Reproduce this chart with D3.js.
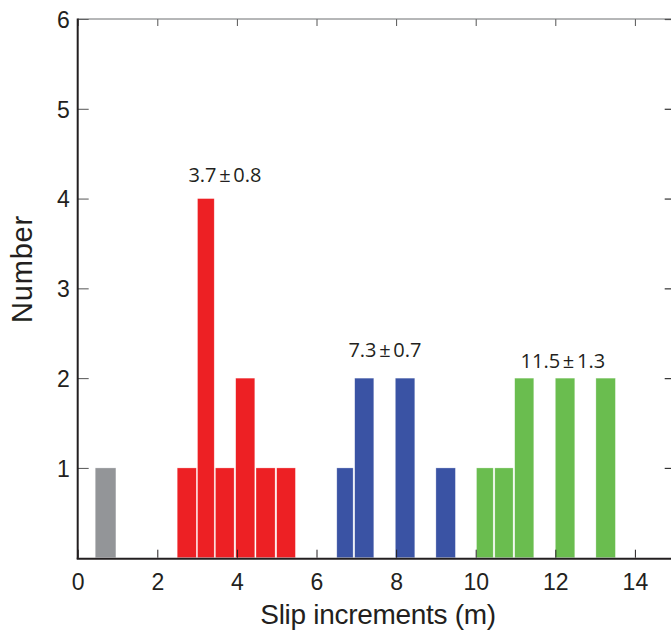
<!DOCTYPE html>
<html>
<head>
<meta charset="utf-8">
<script src="https://cdn.jsdelivr.net/npm/d3@7/dist/d3.min.js"></script>
<style>
  html, body { margin: 0; padding: 0; background: #fff; }
  svg { display: block; }
</style>
</head>
<body>
<svg id="chart" width="671" height="637"></svg>
<script>
// ---- data (histogram bins, in metres) ----
const binStart = [0.44, 2.50, 3.01, 3.46, 3.97, 4.48, 5.00, 6.51, 6.96, 7.98, 9.00, 10.02, 10.48, 10.98, 12.00, 13.02];
const binEnd   = [0.96, 2.98, 3.43, 3.93, 4.45, 4.96, 5.47, 6.92, 7.44, 8.47, 9.49, 10.44, 10.94, 11.46, 12.49, 13.51];
const counts   = [1, 1, 4, 1, 2, 1, 1, 1, 2, 2, 1, 1, 1, 2, 2, 2];
const binGroup = ["other", "A", "A", "A", "A", "A", "A", "B", "B", "B", "B", "C", "C", "C", "C", "C"];

const groupNames  = ["other", "A", "B", "C"];
const groupColors = ["#939598", "#ed2024", "#3a53a4", "#6abd4f"];

const annotations = ["3.7 ± 0.8", "7.3 ± 0.7", "11.5 ± 1.3"];
const annotX = [3.70, 7.72, 12.19];
const annotY = [4.19, 2.23, 2.11];

const xTicks = [0, 2, 4, 6, 8, 10, 12, 14];
const yTicks = [1, 2, 3, 4, 5, 6];
const xTitle = "Slip increments (m)";
const yTitle = "Number";

(function () {
// ---- layout ----
const svg = d3.select("#chart");
const mLeft = 77.7, mRight = 674.7, mTop = 19, mBottom = 557.7;
const x = d3.scaleLinear().domain([0, 15]).range([mLeft, mRight]);
const y = d3.scaleLinear().domain([0, 6]).range([mBottom, mTop]);
const color = d3.scaleOrdinal().domain(groupNames).range(groupColors);

const bins = binStart.map((s, i) => ({ x0: s, x1: binEnd[i], n: counts[i], g: binGroup[i] }));

// bars
svg.append("g").selectAll("rect").data(bins).join("rect")
  .attr("x", d => x(d.x0))
  .attr("width", d => x(d.x1) - x(d.x0))
  .attr("y", d => y(d.n))
  .attr("height", d => y(0) - y(d.n))
  .attr("fill", d => color(d.g))
  .attr("stroke", "#ffffff")
  .attr("stroke-opacity", 0.5)
  .attr("stroke-width", 0.6);

// axes
const tickFont = "'Liberation Sans', Arial, Helvetica, sans-serif";
const dark = "#231f20";

const xAxis = d3.axisBottom(x).tickValues(xTicks).tickSize(-8).tickPadding(16).tickFormat(d3.format("d"));
const gx = svg.append("g").attr("transform", `translate(0,${mBottom})`).call(xAxis);
gx.select(".domain").remove();
gx.selectAll(".tick line").attr("stroke", dark).attr("stroke-width", 1);
gx.selectAll(".tick text").attr("font-family", tickFont).attr("font-size", 23).attr("fill", dark).attr("dy", "0.71em");

const xTopAxis = d3.axisTop(x).tickValues(xTicks).tickSize(-7).tickFormat("");
const gxt = svg.append("g").attr("transform", `translate(0,${mTop})`).call(xTopAxis);
gxt.select(".domain").remove();
gxt.selectAll(".tick line").attr("stroke", "#555").attr("stroke-width", 1);

const yAxis = d3.axisLeft(y).tickValues(yTicks).tickSize(-11).tickPadding(8).tickFormat(d3.format("d"));
const gy = svg.append("g").attr("transform", `translate(${mLeft},0)`).call(yAxis);
gy.select(".domain").remove();
gy.selectAll(".tick line").attr("stroke", "#555").attr("stroke-width", 1);
gy.selectAll(".tick text").attr("font-family", tickFont).attr("font-size", 23).attr("fill", dark).attr("dy", "0.36em");

const yRightAxis = d3.axisRight(y).tickValues(yTicks).tickSize(-10).tickFormat("");
const gyr = svg.append("g").attr("transform", `translate(${mRight},0)`).call(yRightAxis);
gyr.select(".domain").remove();
gyr.selectAll(".tick line").attr("stroke", "#333").attr("stroke-width", 1.2);

// spines
svg.append("line").attr("x1", mLeft).attr("x2", mRight).attr("y1", mTop).attr("y2", mTop)
  .attr("stroke", "#6d6e71").attr("stroke-width", 1);
svg.append("line").attr("x1", mLeft).attr("x2", mLeft).attr("y1", mTop - 0.5).attr("y2", mBottom + 1)
  .attr("stroke", dark).attr("stroke-width", 2);
svg.append("line").attr("x1", mLeft - 1).attr("x2", mRight).attr("y1", mBottom + 1).attr("y2", mBottom + 1)
  .attr("stroke", dark).attr("stroke-width", 2);

// annotations
svg.append("g").selectAll("text").data(annotations).join("text")
  .attr("x", (d, i) => x(annotX[i]))
  .attr("y", (d, i) => y(annotY[i]))
  .attr("text-anchor", "middle")
  .attr("font-family", "'Open Sans', 'Noto Sans', sans-serif")
  .attr("font-size", 20)
  .attr("word-spacing", "-2.5px")
  .attr("fill", dark)
  .text(d => d);

// axis titles
svg.append("text")
  .attr("x", 378).attr("y", 624)
  .attr("text-anchor", "middle")
  .attr("font-family", tickFont)
  .attr("font-size", 28)
  .attr("letter-spacing", "-0.3px")
  .attr("fill", dark)
  .text(xTitle);

svg.append("text")
  .attr("transform", "translate(32,269) rotate(-90)")
  .attr("text-anchor", "middle")
  .attr("font-family", tickFont)
  .attr("font-size", 29)
  .attr("letter-spacing", "0.8px")
  .attr("fill", dark)
  .text(yTitle);
})();
</script>
</body>
</html>
